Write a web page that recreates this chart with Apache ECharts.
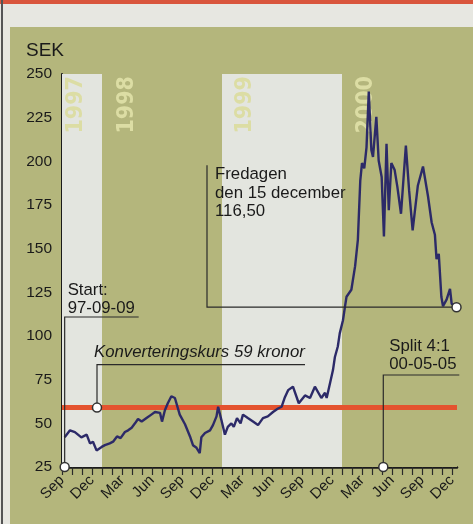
<!DOCTYPE html>
<html><head><meta charset="utf-8">
<script src="https://cdn.jsdelivr.net/npm/echarts@6/dist/echarts.min.js"></script>
<style>
html,body{margin:0;padding:0;width:473px;height:524px;overflow:hidden;background:#e7e7e1;}
#topline{position:absolute;left:0;top:0;width:473px;height:4px;background:#d9553c;}
#leftline{position:absolute;left:1px;top:0;width:2px;height:524px;background:#555;}
#panel{position:absolute;left:10px;top:27px;right:0;bottom:0;background:#b4b67c;}
#chart{position:absolute;left:0;top:0;width:473px;height:524px;}
</style></head>
<body>
<div id="topline"></div><div id="leftline"></div><div id="panel"></div>
<div id="chart"></div>
<script>
// ---- data ----
const dates = [
'1997-09-09','1997-09-25','1997-10-10','1997-10-30','1997-11-15','1997-11-25','1997-12-04','1997-12-15','1997-12-31',
'1998-01-10','1998-01-25','1998-02-04','1998-02-15','1998-02-25','1998-03-10','1998-03-20','1998-03-31','1998-04-10',
'1998-04-19','1998-04-30','1998-05-15','1998-05-30','1998-06-10','1998-06-25','1998-07-01','1998-07-10','1998-07-19',
'1998-07-30','1998-08-10','1998-08-25','1998-09-10','1998-09-25','1998-10-04','1998-10-15','1998-10-25','1998-10-30',
'1998-11-10','1998-11-25','1998-12-04','1998-12-15','1998-12-20','1998-12-30',
'1999-01-10','1999-01-19','1999-01-30','1999-02-06','1999-02-15','1999-02-25','1999-03-04','1999-03-19','1999-04-04',
'1999-04-19','1999-05-04','1999-05-19','1999-06-04','1999-06-19','1999-06-30','1999-07-10','1999-07-20','1999-08-04',
'1999-08-22','1999-09-10','1999-09-25','1999-10-10','1999-10-30','1999-11-10','1999-11-15','1999-11-25','1999-12-04',
'1999-12-10','1999-12-19','1999-12-25',
'2000-01-04','2000-01-10','2000-01-15','2000-01-30','2000-02-10','2000-02-18','2000-02-25','2000-03-01','2000-03-08',
'2000-03-15','2000-03-22','2000-03-30','2000-04-04','2000-04-14','2000-04-21','2000-04-30','2000-05-07','2000-05-15',
'2000-05-22','2000-05-30','2000-06-09','2000-06-17','2000-06-28','2000-07-13','2000-07-23','2000-08-03','2000-08-19',
'2000-09-04','2000-09-19','2000-09-30','2000-10-10','2000-10-15','2000-10-22','2000-10-30','2000-11-04','2000-11-15',
'2000-11-25','2000-11-30','2000-12-15'
];
const prices = [
42,46,45,42,43.5,38.5,39.5,34.5,36.5,
37.5,38.5,39.5,42.5,41.5,45,46,47.5,50,
52.5,51,53,55,56.5,56,51,57.5,61.5,
65.5,64.5,55,49.5,42.5,37.5,36,33,42,
44.5,46,49,54,59.5,52,
43.5,48,50,48,53,50,55,53,51,
49,53,54,56.5,58.5,59.5,65,69,71,
61.5,66,64.5,71,64.5,67.5,64.5,73,80.5,
88,94,101.5,
109,116.5,122.5,126.5,140,155,189,199,196,
208,240,206.5,202.5,225.5,200.5,191,157,210,
172,199,195,185.5,170,209,183.5,160.5,186,
197,180,165,158,144,147,122.5,117,121,
127,118.5,116.5
];
const conversionRate = 59;
const splitDate = '2000-05-05';
const yearNames = ['1997','1998','1999','2000'];
const yearStarts = ['1997-09-01','1998-01-01','1999-01-01','2000-01-01'];
const yearEnds = ['1998-01-01','1999-01-01','2000-01-01','2000-12-20'];
const monthNames = ['Jan','Feb','Mar','Apr','May','Jun','Jul','Aug','Sep','Oct','Nov','Dec'];
const yMin = 25, yMax = 250, yStep = 25;

// ---- helpers ----
function toMonth(s){
  const [y,m,d] = s.split('-').map(Number);
  const dim = new Date(y, m, 0).getDate();
  return (y-1997)*12 + (m-9) + (d-1)/dim;
}
const seriesData = dates.map((d,i)=>[toMonth(d), prices[i]]);
const tickVals = []; for(let i=0;i<=39;i++) tickVals.push(i);
const labelVals = tickVals.filter(v=>v%3===0);

const GREEN = '#b4b67c', WHITE = '#e3e5df';
const FONT = 'Liberation Sans, Arial, sans-serif';

const chart = echarts.init(document.getElementById('chart'), null, {renderer:'canvas'});
chart.setOption({
  animation:false,
  backgroundColor:'transparent',
  title:{text:'SEK', left:21, top:36, textStyle:{fontFamily:FONT, fontSize:19, fontWeight:'normal', color:'#1a1a1a'}},
  grid:{left:62, right:16, top:74, bottom:57},
  xAxis:{type:'value', min:0, max:39.5,
    axisLine:{show:true, onZero:false, lineStyle:{color:'#1a1a1a', width:2.5}},
    axisTick:{show:true, customValues:tickVals, length:8, lineStyle:{color:'#2a2a2a', width:1.2}},
    axisLabel:{customValues:labelVals, rotate:45, margin:11, fontFamily:FONT, fontSize:15, color:'#1a1a1a',
      formatter:v=>monthNames[(Math.round(v)+8)%12]},
    splitLine:{show:false}},
  yAxis:{type:'value', min:yMin, max:yMax, interval:yStep,
    axisLine:{show:true, lineStyle:{color:'#1a1a1a', width:2}},
    axisTick:{show:false},
    axisLabel:{margin:10, fontFamily:FONT, fontSize:15.5, color:'#1a1a1a'},
    splitLine:{show:true, lineStyle:{color:'rgba(70,70,55,0.45)', width:1}}},
  series:[
    {type:'line', data:[], silent:true, z:1,
      markArea:{silent:true, data: yearStarts.map((s,i)=>[
        {xAxis:Math.max(0,toMonth(s)), itemStyle:{color: i%2===0 ? WHITE : GREEN}},
        {xAxis:Math.min(39.5,toMonth(yearEnds[i]))}])},
    },
    {type:'line', data:[], silent:true, z:2,
      markLine:{silent:true, symbol:'none', label:{show:false},
        lineStyle:{color:'#e4532f', width:5, type:'solid'},
        data:[{yAxis:conversionRate}]}},
    {type:'line', name:'Ericsson', data:seriesData, z:5, symbol:'none', smooth:false,
      lineStyle:{color:'#2c2a68', width:2.4}}
  ]
});

// ---- annotations ----
function px(p){ return chart.convertToPixel({gridIndex:0}, p); }
const startPt = px([toMonth(dates[0]), yMin]);
const convPt = px([3.5, conversionRate]);
const lastPt = px([toMonth(dates[dates.length-1]), prices[prices.length-1]]);
const splitPt = px([toMonth(splitDate), yMin]);
const LC = '#2a2a2a';
const g = [];
function pl(points){ g.push({type:'polyline', z:20, shape:{points}, style:{stroke:LC, lineWidth:1.2, fill:null}}); }
function circ(p){ g.push({type:'circle', z:21, shape:{cx:p[0], cy:p[1], r:4.5}, style:{fill:'#ffffff', stroke:'#333', lineWidth:1.5}}); }
function txt(x,y,text,italic){ g.push({type:'text', z:22, x, y, style:{text, fontFamily:FONT, fontSize:16.8, fontStyle: italic?'italic':'normal', fill:'#1a1a1a', lineHeight:18.5, align:'left', verticalAlign:'top'}}); }

// year labels
const yearOffsets = [1.4, 2.5, 2.35, 2.45];
yearNames.forEach((n,i)=>{
  const p = px([Math.max(0,toMonth(yearStarts[i])) + yearOffsets[i], yMax]);
  g.push({type:'text', z:3, x:p[0], y:p[1]+2, rotation:Math.PI/2,
    style:{text:n, fontFamily:'Liberation Sans Narrow, DejaVu Sans Condensed, sans-serif', fontWeight:'bold', fontSize:23,
      fill:'#dcdda4', align:'right', verticalAlign:'middle'}});
});

// Start
const sY = startPt[1]-150;
pl([[startPt[0], startPt[1]], [startPt[0], sY], [startPt[0]+74, sY]]);
circ(startPt);
txt(startPt[0]+3, sY-36, 'Start:\n97-09-09');
// Konverteringskurs
const kY = convPt[1]-43;
pl([[convPt[0], convPt[1]], [convPt[0], kY], [convPt[0]+208, kY]]);
circ(convPt);
txt(convPt[0]-3, kY-22, 'Konverteringskurs 59 kronor', true);
// Fredagen
const fX = px([14.5, yMin])[0];
const fTop = lastPt[1]-142;
pl([[lastPt[0], lastPt[1]], [fX, lastPt[1]], [fX, fTop]]);
circ(lastPt);
txt(fX+8, fTop, 'Fredagen\nden 15 december\n116,50');
// Split
const spY = splitPt[1]-92;
pl([[splitPt[0], splitPt[1]], [splitPt[0], spY], [splitPt[0]+76, spY]]);
circ(splitPt);
txt(splitPt[0]+6, spY-38, 'Split 4:1\n00-05-05');

chart.setOption({graphic:g});
</script>
</body></html>
